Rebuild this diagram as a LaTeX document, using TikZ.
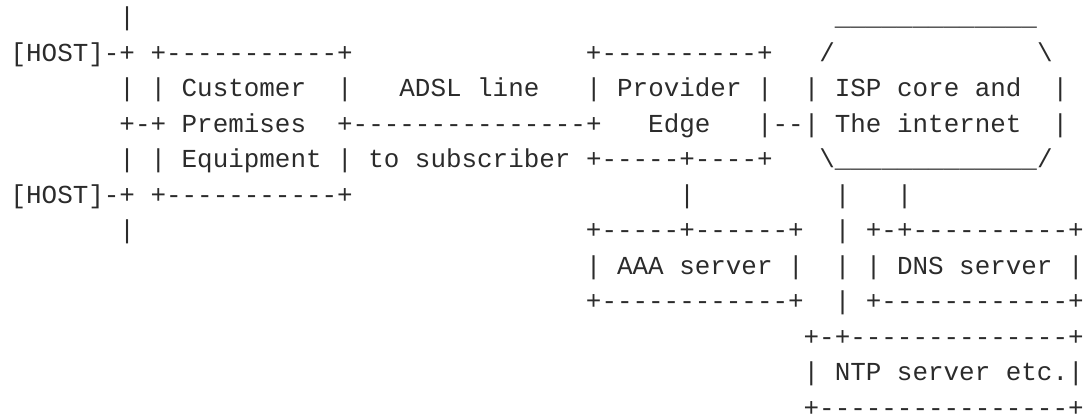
\documentclass[tikz,border=0pt]{standalone}
\usepackage{xcolor}
\usepackage{fontspec}
\setmonofont{Liberation Mono}
\usepackage{tikz}

\definecolor{inkgray}{HTML}{2B2B2B}

\begin{document}
\begin{tikzpicture}[x=15.55pt, y=-35.5pt,
      row/.style={anchor=base west, inner sep=0pt, outer sep=0pt,
                  font=\fontsize{25.92pt}{35.5pt}\ttfamily, text=inkgray}]
    \useasboundingbox (-0.682,-0.727) rectangle (69.22,11.048);
    % upper part: hosts, CPE, ADSL line, provider edge, ISP core
    \node[row] (lanTop) at (7,0) {|};
    \node[row] (coreTop) at (53,0) {\_\_\_\_\_\_\_\_\_\_\_\_\_};
    \node[row] (hostA) at (0,1) {[HOST]-+ +-----------+};
    \node[row] (peTop) at (37,1) {+----------+~~~/~~~~~~~~~~~~~\textbackslash};
    \node[row] (cpeA) at (7,2) {|~|~Customer~~|~~~ADSL~line~~~|~Provider~|~~|~ISP~core~and~~|};
    \node[row] (cpeB) at (7,3) {+-+~Premises~~+---------------+~~~Edge~~~|--|~The~internet~~|};
    \node[row] (cpeC) at (7,4) {|~|~Equipment~|~to~subscriber~+-----+----+~~~\textbackslash\_\_\_\_\_\_\_\_\_\_\_\_\_/};
    \node[row] (hostB) at (0,5) {[HOST]-+ +-----------+};
    \node[row] (peLink) at (43,5) {|};
    \node[row] (coreLinkA) at (53,5) {|};
    \node[row] (coreLinkB) at (57,5) {|};
    % lower part: servers
    \node[row] (lanBot) at (7,6) {|};
    \node[row] (srvTop) at (37,6) {+-----+------+~~|~+-+----------+};
    \node[row] (srvMid) at (37,7) {|~AAA~server~|~~|~|~DNS~server~|};
    \node[row] (srvBot) at (37,8) {+------------+~~|~+------------+};
    \node[row] (ntpTop) at (51,9) {+-+--------------+};
    \node[row] (ntpMid) at (51,10) {|~NTP~server~etc.|};
    \node[row] (ntpBot) at (51,11) {+----------------+};
  \end{tikzpicture}
\end{document}
